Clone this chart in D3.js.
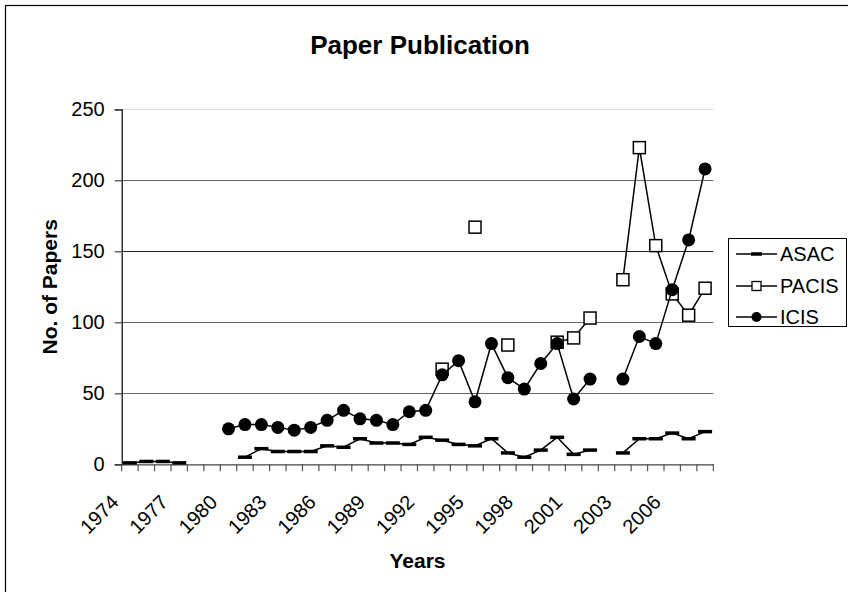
<!DOCTYPE html>
<html>
<head>
<meta charset="utf-8">
<script src="https://cdn.jsdelivr.net/npm/d3@7"></script>
<style>
  html, body { margin: 0; padding: 0; background: #fff; }
  svg { display: block; }
  text { font-family: "Liberation Sans", Arial, sans-serif; fill: #000; }
</style>
</head>
<body>
<svg id="chart" width="848" height="592"></svg>
<script>
// ---- data ----
const years = ["1974","1975","1976","1977","1978","1979","1980","1981","1982","1983",
  "1984","1985","1986","1987","1988","1989","1990","1991","1992","1993",
  "1994","1995","1996","1997","1998","1999","2000","2001","2002","",
  "2003","2004","2005","2006","2007","2008"];
const shownLabels = ["1974","1977","1980","1983","1986","1989","1992","1995","1998","2001","2003","2006"];
const asac  = [1,2,2,1,null,null,null,5,11,9,9,9,13,12,18,15,15,14,19,17,14,13,18,8,5,10,19,7,10,null,8,18,18,22,18,23];
const pacis = [null,null,null,null,null,null,null,null,null,null,null,null,null,null,null,null,null,null,null,67,null,167,null,84,null,null,86,89,103,null,130,223,154,120,105,124];
const icis  = [null,null,null,null,null,null,25,28,28,26,24,26,31,38,32,31,28,37,38,63,73,44,85,61,53,71,85,46,60,null,60,90,85,123,158,208];
const yTicks = [0,50,100,150,200,250];
const seriesNames = ["ASAC","PACIS","ICIS"];

(function () {
// ---- layout ----
const svg = d3.select("#chart");
const pL = 121.7, pR = 713.3, pT = 109.3, pB = 464.3;

const x = d3.scaleBand().domain(d3.range(years.length)).range([pL, pR]).padding(0);
const y = d3.scaleLinear().domain([0, 250]).range([pB, pT]);
const cx = i => x(i) + x.bandwidth() / 2;

// outer border
svg.append("rect").attr("x", 5.5).attr("y", 5.5).attr("width", 900).attr("height", 700)
  .attr("fill", "none").attr("stroke", "#000").attr("stroke-width", 1.2);

// title
svg.append("text").attr("x", 420).attr("y", 54).attr("text-anchor", "middle")
  .attr("font-weight", "bold").attr("font-size", 26).text("Paper Publication");

// gridlines
svg.append("g").selectAll("line").data(yTicks.filter(t => t > 0)).join("line")
  .attr("x1", pL).attr("x2", pR)
  .attr("y1", d => Math.round(y(d)) + 0.5).attr("y2", d => Math.round(y(d)) + 0.5)
  .attr("stroke", d => d === 250 ? "#dddddd" : (d === 150 ? "#222" : "#666"))
  .attr("stroke-width", 1);

// y axis
const yAxis = d3.axisLeft(y).tickValues(yTicks).tickSize(7).tickPadding(10).tickFormat(d3.format("d"));
const gy = svg.append("g").attr("transform", `translate(${pL},0)`).call(yAxis);
gy.select(".domain").attr("stroke", "#000").attr("stroke-width", 1.2);
gy.selectAll(".tick line").attr("stroke", "#444").attr("stroke-width", 1.2);
gy.selectAll(".tick text").attr("font-size", 20).attr("font-family", "Liberation Sans, Arial, sans-serif").attr("fill", "#000");

// x axis (ticks at category boundaries)
const gx = svg.append("g").attr("transform", `translate(0,${pB})`);
const xAxis = d3.axisBottom(x).tickSize(0).tickFormat("");
gx.call(xAxis);
gx.select(".domain").attr("stroke", "#444").attr("stroke-width", 1.2);
const bounds = d3.range(years.length + 1).map(i => i < years.length ? x(i) : pR);
gx.selectAll("line.bt").data(bounds).join("line").attr("class", "bt")
  .attr("x1", d => d).attr("x2", d => d).attr("y1", 0).attr("y2", 7)
  .attr("stroke", "#555").attr("stroke-width", 1.2);

// x tick labels
svg.append("g").selectAll("text").data(d3.range(years.length).filter(i => shownLabels.includes(years[i]))).join("text")
  .attr("transform", i => `translate(${cx(i) - 10},503.5) rotate(-45)`)
  .attr("text-anchor", "end").attr("font-size", 20).text(i => years[i]);

// axis titles
svg.append("text").attr("x", (pL + pR) / 2).attr("y", 568).attr("text-anchor", "middle")
  .attr("font-weight", "bold").attr("font-size", 21).text("Years");
svg.append("text").attr("transform", `translate(57,${(pT + pB) / 2}) rotate(-90)`)
  .attr("text-anchor", "middle").attr("font-weight", "bold").attr("font-size", 21).text("No. of Papers");

// series
const line = d3.line().defined(d => d.v != null).x(d => cx(d.i)).y(d => y(d.v));
const toPts = arr => arr.map((v, i) => ({ i, v }));

function drawSeries(arr, type) {
  const pts = toPts(arr);
  const g = svg.append("g");
  g.append("path").datum(pts).attr("d", line).attr("fill", "none")
    .attr("stroke", "#000").attr("stroke-width", 1.5);
  const valid = pts.filter(d => d.v != null);
  if (type === "dash") {
    g.selectAll("rect").data(valid).join("rect")
      .attr("x", d => cx(d.i) - 7).attr("y", d => y(d.v) - 1.75)
      .attr("width", 14).attr("height", 3.5).attr("fill", "#000");
  } else if (type === "square") {
    g.selectAll("rect").data(valid).join("rect")
      .attr("x", d => cx(d.i) - 6).attr("y", d => y(d.v) - 6)
      .attr("width", 12).attr("height", 12).attr("fill", "#fff")
      .attr("stroke", "#000").attr("stroke-width", 1.5);
  } else {
    g.selectAll("circle").data(valid).join("circle")
      .attr("cx", d => cx(d.i)).attr("cy", d => y(d.v)).attr("r", 6.5).attr("fill", "#000");
  }
}
drawSeries(asac, "dash");
drawSeries(pacis, "square");
drawSeries(icis, "circle");

// legend
const lg = svg.append("g");
lg.append("rect").attr("x", 728.5).attr("y", 238.5).attr("width", 118).attr("height", 88)
  .attr("fill", "#fff").attr("stroke", "#000").attr("stroke-width", 1);
const types = ["dash", "square", "circle"];
const ly = [254, 286, 317];
seriesNames.forEach((name, k) => {
  const yy = ly[k];
  lg.append("line").attr("x1", 736).attr("x2", 777).attr("y1", yy).attr("y2", yy)
    .attr("stroke", "#000").attr("stroke-width", 1.5);
  if (types[k] === "dash") {
    lg.append("rect").attr("x", 751).attr("y", yy - 1.75).attr("width", 11).attr("height", 3.5).attr("fill", "#000");
  } else if (types[k] === "square") {
    lg.append("rect").attr("x", 752).attr("y", yy - 4.5).attr("width", 9).attr("height", 9)
      .attr("fill", "#fff").attr("stroke", "#000").attr("stroke-width", 1.3);
  } else {
    lg.append("circle").attr("cx", 756.5).attr("cy", yy).attr("r", 5).attr("fill", "#000");
  }
  lg.append("text").attr("x", 780).attr("y", yy).attr("dy", "0.36em").attr("font-size", 20).text(name);
});
})();
</script>
</body>
</html>
